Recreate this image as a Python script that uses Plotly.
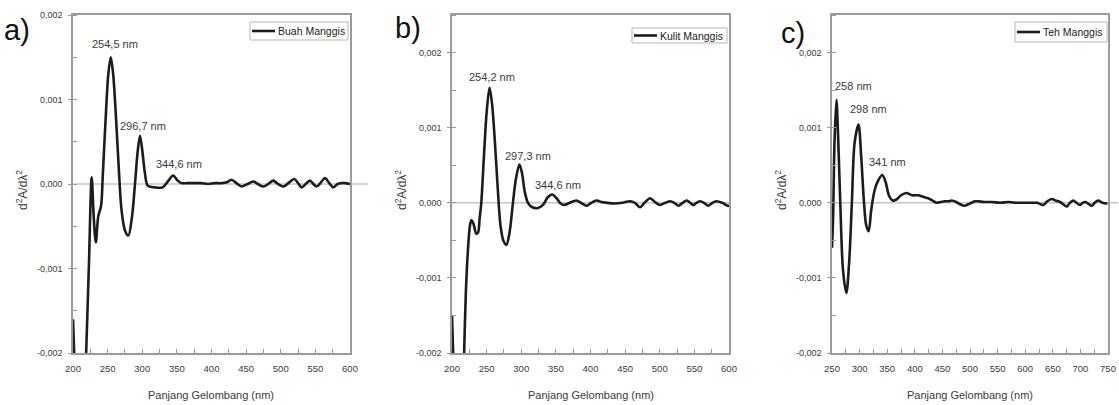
import plotly.graph_objects as go

# Second-derivative UV spectra of three mangosteen samples
buah_wl = [200, 202, 205, 212, 217, 219, 223, 227, 230, 233, 236.5, 240.5, 243, 247, 251,
           254.5, 258, 262, 266, 270, 275, 279.9, 285, 289.5, 293, 296.7, 300, 304, 308,
           318, 329.5, 337, 344.6, 351, 357, 365, 375, 385, 395, 405, 415, 422, 429, 436,
           443.6, 452, 460.4, 467, 474.8, 482, 489.3, 496, 503.7, 511, 519.6, 525, 530.2,
           536, 542.2, 547, 551.9, 558, 563.9, 570, 575.9, 582, 588, 593, 600]
buah_d2 = [-0.0016, -0.0021, -0.0035, -0.004, -0.0025, -0.002, -0.00095, 0.00008, -0.0004,
           -0.00069, -0.00038, -0.00026, 0.0001, 0.00075, 0.0013, 0.0015, 0.0013, 0.0008,
           0.0002, -0.0003, -0.00055, -0.00061, -0.0004, 0.0, 0.00035, 0.00057, 0.0004,
           0.00012, -0.00002, -0.00004, -0.00004, 0.00003, 0.0001, 0.00004, 0.00001,
           0.00001, 0.00001, 0.00001, 0.0, 0.00001, 0.00001, 0.00002, 0.00005, 0.00001,
           -0.00003, 0.0, 0.00003, 0.0, -0.00003, 0.0, 0.00004, 0.0, -0.00003, 0.00001,
           0.00006, 0.00001, -0.00004, 0.0, 0.00004, 0.0, -0.00003, 0.00002, 0.00007,
           0.00001, -0.00004, 0.0, 0.00001, 0.00001, 0.0]

kulit_wl = [200, 202, 205, 211, 216, 217.5, 220, 223, 226, 228, 231, 235, 237.5, 240, 242.3,
            246, 250, 254.2, 258, 262, 266, 270, 274, 278.5, 283, 288, 292, 297.3, 301, 305,
            309.7, 316, 324, 332, 338, 344.6, 351, 357, 362, 370, 379.5, 386, 394.5, 401,
            409, 416, 423, 435, 446, 457, 464, 471.5, 478, 486, 493, 500.4, 508, 514.9, 521,
            527, 533, 539, 544, 548.5, 553, 558, 564, 570, 576, 582, 590, 598, 600]
kulit_d2 = [-0.0015, -0.0021, -0.0035, -0.004, -0.0025, -0.002, -0.0012, -0.00063, -0.0003,
            -0.00023, -0.00028, -0.00041, -0.0004, -0.0002, 0.0, 0.0006, 0.0012, 0.00153,
            0.0013, 0.0008, 0.0002, -0.0003, -0.0005, -0.00056, -0.0004, 0.0, 0.0003,
            0.00051, 0.0004, 0.00015, 0.0, -0.00006, -0.00007, -0.00002, 0.00007, 0.00011,
            0.00006, -0.00001, -0.00003, 0.0, 0.00003, 0.0, -0.00004, 0.0, 0.00003, 0.00001,
            0.0, -0.00001, 0.0, 0.00002, 0.0, -0.00006, 0.0, 0.00006, 0.00001, -0.00003, 0.0,
            0.00002, 0.0, -0.00004, 0.0, 0.00003, 0.0, -0.00003, 0.0, 0.00002, 0.0, -0.00004,
            0.0, 0.00002, 0.0, -0.00004, -0.00004]

teh_wl = [250, 252, 254.5, 258, 261, 265, 270, 276, 281, 286, 291, 298, 303, 308, 312, 316.4,
          321, 327.3, 334, 341, 347, 353, 360, 366, 375, 384.6, 395, 405.8, 415, 424, 432,
          439, 447, 454, 461, 467, 475, 482, 490, 497, 503, 509, 515, 525, 540, 555, 570,
          585, 600, 615, 622, 632.8, 640, 648, 655, 663, 669, 675, 681, 687, 693, 699, 704,
          708, 714, 720.5, 726, 732.5, 740, 749]
teh_d2 = [-0.0006, -0.0002, 0.0008, 0.00137, 0.0009, 0.0, -0.0009, -0.0012, -0.0008, 0.0,
          0.0008, 0.00104, 0.0006, 0.0, -0.0003, -0.00038, -0.0001, 0.00017, 0.0003, 0.00037,
          0.00028, 0.0001, 0.00003, 0.00004, 0.0001, 0.00013, 0.0001, 0.0001, 0.00008,
          0.00006, 0.00003, 0.0, 0.00001, 0.00002, 0.00002, 0.00003, 0.00001, -0.00002,
          -0.00004, -0.00002, 0.0, 0.00002, 0.00002, 0.00001, 0.00001, 0.0, 0.00001, 0.0,
          0.0, 0.0, 0.0, -0.00003, 0.00002, 0.00005, 0.00003, 0.00001, -0.00002, -0.00005,
          0.0, 0.00003, 0.0, -0.00003, 0.0, 0.00001, -0.00001, -0.00004, 0.0, 0.00003, 0.0,
          -0.00001]

series_names = ["Buah Manggis", "Kulit Manggis", "Teh Manggis"]
panel_tags = ["a)", "b)", "c)"]

# Labelled peaks: (wavelength, value, label, x offset px, y offset px)
buah_peaks = [(254.5, 0.0015, "254,5 nm", 4, 13), (296.7, 0.00057, "296,7 nm", 3, 10),
              (344.6, 0.0001, "344,6 nm", 6, 12)]
kulit_peaks = [(254.2, 0.00153, "254,2 nm", 2, 11), (297.3, 0.00051, "297,3 nm", 9, 8),
               (344.6, 0.00011, "344,6 nm", 6, 10)]
teh_peaks = [(258, 0.00137, "258 nm", 17, 14), (298, 0.00104, "298 nm", 10, 16),
             (341, 0.00037, "341 nm", 5, 13)]

y_ticks = [-0.002, -0.001, 0.0, 0.001, 0.002]
y_ticktext = ["-0,002", "-0,001", "0,000", "0,001", "0,002"]

W, H = 1119, 405
FONT = "Liberation Sans, Arial, sans-serif"
AXIS = "#9a9a9a"
TEXT = "#3a3a3a"

panels = [
    dict(wl=buah_wl, d2=buah_d2, peaks=buah_peaks, px=(73, 350), xr=(200, 600),
         yr=(-0.002, 0.002), ytitle_x=22, tag_xy=(17, 30),
         legbox=(250, 22, 348, 40), zero_ext=18),
    dict(wl=kulit_wl, d2=kulit_d2, peaks=kulit_peaks, px=(452, 729), xr=(200, 600),
         yr=(-0.002, 0.0025), ytitle_x=401, tag_xy=(408, 28),
         legbox=(632, 28, 727, 43), zero_ext=0),
    dict(wl=teh_wl, d2=teh_d2, peaks=teh_peaks, px=(832, 1108), xr=(250, 750),
         yr=(-0.002, 0.0025), ytitle_x=781, tag_xy=(793, 33),
         legbox=(1015, 22, 1107, 42), zero_ext=10),
]

plot_top, plot_bottom = 15, 353
ydom = [(H - plot_bottom) / H, (H - plot_top) / H]


def px_x(v):
    return v / W


def px_y(v):
    return 1 - v / H


fig = go.Figure()
annotations = []
shapes = []

for i, p in enumerate(panels):
    n = "" if i == 0 else str(i + 1)
    xa, ya = "x" + n, "y" + n
    fig.add_trace(go.Scatter(
        x=p["wl"], y=p["d2"], mode="lines", name=series_names[i],
        line=dict(color="#1c1c1c", width=2.6, shape="spline", smoothing=0.9),
        xaxis=xa, yaxis=ya, showlegend=False,
    ))
    xticks = list(range(p["xr"][0], p["xr"][1] + 1, 50))
    fig.update_layout({
        "xaxis" + n: dict(
            domain=[p["px"][0] / W, p["px"][1] / W], anchor=ya, range=list(p["xr"]),
            tickmode="array", tickvals=xticks, ticktext=[str(v) for v in xticks],
            ticks="inside", ticklen=4, tickwidth=1, tickcolor=AXIS,
            minor=dict(ticks="inside", ticklen=4, tickwidth=1, tickcolor=AXIS,
                       tickmode="linear", tick0=0, dtick=25),
            showline=True, linecolor=AXIS, linewidth=1.5, mirror=True,
            showgrid=False, zeroline=False, automargin=False,
            tickfont=dict(family=FONT, size=9.5, color=TEXT), ticklabelstandoff=6,
        ),
        "yaxis" + n: dict(
            domain=ydom, anchor=xa, range=list(p["yr"]),
            tickmode="array", tickvals=y_ticks, ticktext=y_ticktext,
            ticks="outside", ticklen=3, tickwidth=1, tickcolor=AXIS,
            minor=dict(ticks="inside", ticklen=4, tickwidth=1, tickcolor=AXIS,
                       tickmode="linear", tick0=0, dtick=0.0005),
            showline=True, linecolor=AXIS, linewidth=1.5, mirror=True,
            showgrid=False, zeroline=False, automargin=False,
            tickfont=dict(family=FONT, size=9, color=TEXT), ticklabelstandoff=4,
        ),
    })
    # zero reference line
    shapes.append(dict(
        type="line", xref=xa + " domain", yref=ya, x0=0,
        x1=1 + p["zero_ext"] / (p["px"][1] - p["px"][0]), y0=0, y1=0,
        line=dict(color="#c4c4c4", width=1.5), layer="below",
    ))
    # legend box: frame, line sample, series name
    lx0, ly0, lx1, ly1 = p["legbox"]
    ymid = (ly0 + ly1) / 2
    shapes.append(dict(
        type="rect", xref="paper", yref="paper",
        x0=px_x(lx0), x1=px_x(lx1), y0=px_y(ly1), y1=px_y(ly0),
        line=dict(color="#b5b5b5", width=1), fillcolor="white",
    ))
    shapes.append(dict(
        type="line", xref="paper", yref="paper",
        x0=px_x(lx0 + 2), x1=px_x(lx0 + 25), y0=px_y(ymid), y1=px_y(ymid),
        line=dict(color="#1c1c1c", width=2.6),
    ))
    annotations.append(dict(
        x=px_x(lx0 + 26), y=px_y(ymid), xref="paper", yref="paper",
        xanchor="left", yanchor="middle", text=series_names[i], showarrow=False,
        font=dict(family=FONT, size=10.5, color="#222"),
    ))
    # peak labels
    for wl, val, txt, dx, dy in p["peaks"]:
        annotations.append(dict(
            x=wl, y=val, xref=xa, yref=ya, text=txt, showarrow=False,
            xshift=dx, yshift=dy, xanchor="center", yanchor="middle",
            font=dict(family=FONT, size=11, color=TEXT),
        ))
    # axis titles
    annotations.append(dict(
        x=px_x(p["ytitle_x"]), y=px_y(190), xref="paper", yref="paper",
        xanchor="center", yanchor="middle",
        text="d<sup>2</sup>A/dλ<sup>2</sup>", textangle=-90, showarrow=False,
        font=dict(family=FONT, size=12, color=TEXT),
    ))
    annotations.append(dict(
        x=px_x((p["px"][0] + p["px"][1]) / 2), y=px_y(395), xref="paper", yref="paper",
        xanchor="center", yanchor="middle",
        text="Panjang Gelombang (nm)", showarrow=False,
        font=dict(family=FONT, size=11, color=TEXT),
    ))
    # panel tag
    annotations.append(dict(
        x=px_x(p["tag_xy"][0]), y=px_y(p["tag_xy"][1]), xref="paper", yref="paper",
        xanchor="center", yanchor="middle",
        text=panel_tags[i], showarrow=False,
        font=dict(family=FONT, size=29, color="#111"),
    ))

fig.update_layout(
    width=W, height=H, margin=dict(l=0, r=0, t=0, b=0),
    paper_bgcolor="white", plot_bgcolor="white", showlegend=False,
    annotations=annotations, shapes=shapes,
)

fig.write_html("out.html")
